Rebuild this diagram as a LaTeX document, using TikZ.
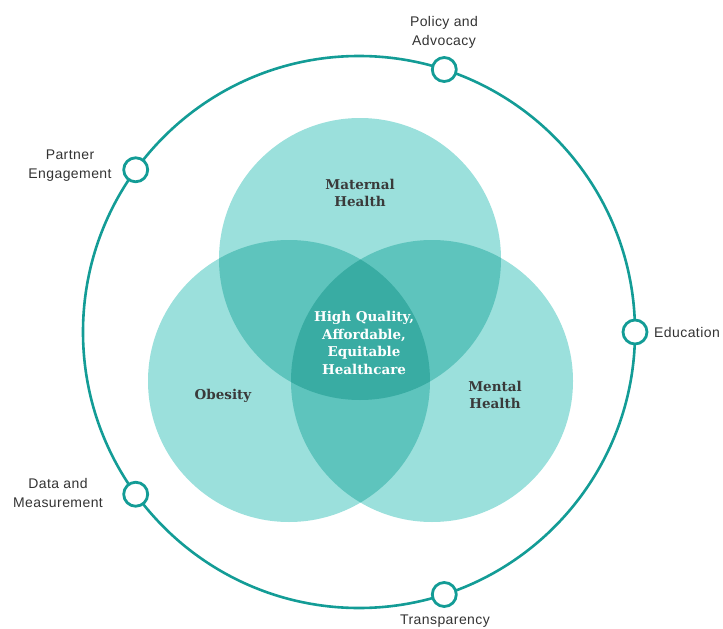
\documentclass[tikz,border=0pt]{standalone}
\usepackage{fontspec}
\newfontfamily\outerfont[LetterSpace=3]{Liberation Sans}
\newfontfamily\vennfont{DejaVu Serif}
\definecolor{ringcol}{HTML}{139C96}
\definecolor{venncol}{RGB}{155,224,220}
\definecolor{labcol}{HTML}{333333}
\definecolor{vlabcol}{HTML}{3A3A3A}
\begin{document}
\begin{tikzpicture}[x=1pt,y=-1pt,
  vennc/.style={circle,minimum size=282pt,inner sep=0pt,outer sep=0pt,fill=venncol,draw=none},
  ringc/.style={circle,minimum size=552pt,inner sep=0pt,outer sep=0pt,draw=ringcol,line width=2.6pt},
  dot/.style={circle,minimum size=24pt,inner sep=0pt,draw=ringcol,line width=2.8pt,fill=white},
  outlab/.style={font=\outerfont\fontsize{14}{19}\selectfont,text=labcol,align=center,inner sep=0pt},
  vlab/.style={font=\vennfont\bfseries\fontsize{13.5}{17.8}\selectfont,text=vlabcol,align=center,inner sep=0pt},
  clab/.style={font=\vennfont\bfseries\fontsize{13.5}{17.8}\selectfont,text=white,align=center,inner sep=0pt}]
\useasboundingbox (0,0) rectangle (723,629);
% Venn circles
\begin{scope}[blend group=multiply]
\node[vennc] (mat) at (360,259) {};
\node[vennc] (obe) at (289,381) {};
\node[vennc] (men) at (432,381) {};
\end{scope}
% outer ring
\node[ringc] (ring) at (359,332) {};
% ring nodes
\node[dot] (pol) at (ring.72) {};
\node[dot] (par) at (ring.144) {};
\node[dot] (edu) at (ring.0) {};
\node[dot] (dat) at (ring.216) {};
\node[dot] (tra) at (ring.288) {};
% outer labels
\node[outlab] (polt) at (444,32) {Policy and\\Advocacy};
\node[outlab] (part) at (70,166) {Partner\\Engagement};
\node[outlab,anchor=west] (edut) at (654,332) {Education};
\node[outlab] (datt) at (58,493) {Data and\\Measurement};
\node[outlab] (trat) at (445,621) {Transparency};
% venn labels
\node[vlab] (matt) at (360,193) {Maternal\\Health};
\node[vlab] (obet) at (223,396) {Obesity};
\node[vlab] (ment) at (495,395) {Mental\\Health};
\node[clab] (cent) at (364,343) {High Quality,\\Affordable,\\Equitable\\Healthcare};
\end{tikzpicture}
\end{document}
